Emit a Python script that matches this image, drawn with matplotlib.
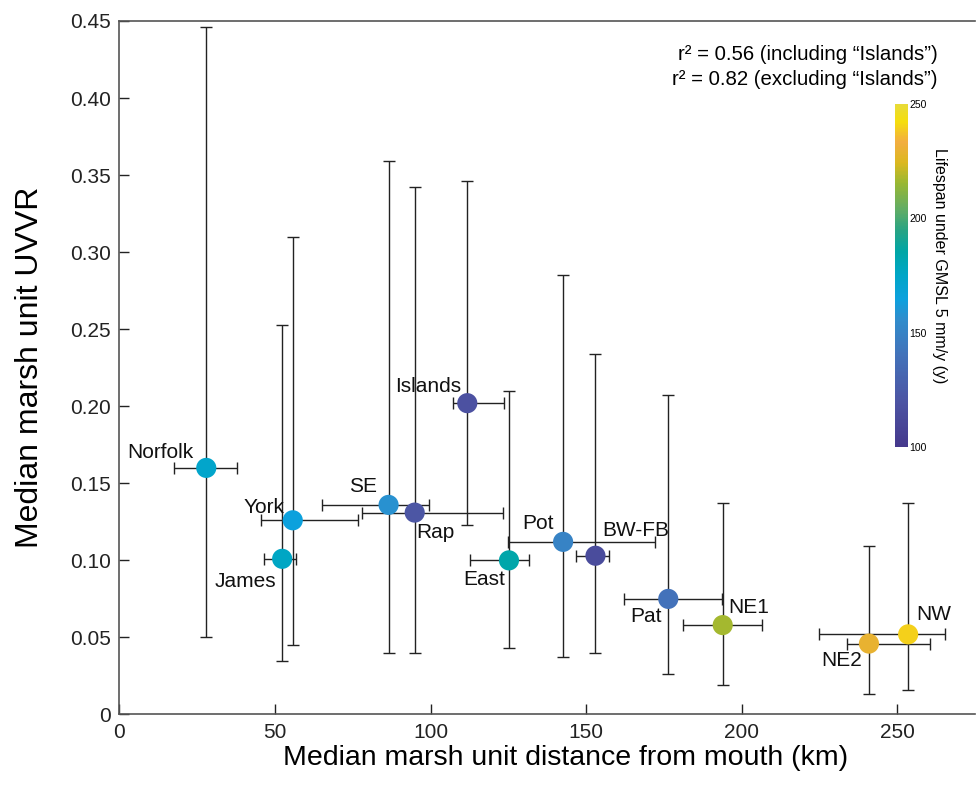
import matplotlib.pyplot as plt
import numpy as np
from matplotlib.colors import LinearSegmentedColormap, Normalize
from matplotlib import cm

# Marsh units: median distance from mouth (km), median UVVR, and spread
units = ['Norfolk', 'York', 'James', 'SE', 'Rap', 'Islands', 'East',
         'Pot', 'BW-FB', 'Pat', 'NE1', 'NE2', 'NW']
dist = [27.9, 55.7, 52.3, 86.5, 94.9, 111.8, 125.2, 142.6, 153.0, 176.4, 193.9, 240.9, 253.5]
dist_lo = [17.6, 45.5, 46.5, 65.1, 77.8, 107.3, 112.7, 124.9, 146.9, 162.2, 181.2, 233.9, 225.0]
dist_hi = [37.7, 76.7, 56.9, 99.4, 123.3, 123.7, 131.5, 172.2, 157.4, 193.6, 206.4, 260.5, 265.2]
uvvr = [0.160, 0.126, 0.101, 0.136, 0.131, 0.202, 0.100, 0.112, 0.103, 0.075, 0.058, 0.046, 0.052]
uvvr_lo = [0.050, 0.045, 0.035, 0.040, 0.040, 0.123, 0.043, 0.037, 0.040, 0.026, 0.019, 0.013, 0.016]
uvvr_hi = [0.446, 0.310, 0.253, 0.359, 0.342, 0.346, 0.210, 0.285, 0.234, 0.207, 0.137, 0.109, 0.137]
# lifespan under GMSL 5 mm/y (years)
lifespan = [173, 165, 176, 158, 121, 118, 184, 150, 114, 140, 217, 229, 240]

r2_lines = ['r\u00b2 = 0.56 (including \u201cIslands\u201d)',
            'r\u00b2 = 0.82 (excluding \u201cIslands\u201d)']

# label placement around each marker, in points
label_offsets = {
    'Norfolk': (-9, 11, 'right'), 'York': (-6, 9, 'right'), 'James': (-4, -16, 'right'),
    'SE': (-8, 13, 'right'), 'Rap': (1, -14, 'left'), 'Islands': (-4, 12, 'right'),
    'East': (-3, -14, 'right'), 'Pot': (-7, 13, 'right'), 'BW-FB': (5, 18, 'left'),
    'Pat': (-5, -13, 'right'), 'NE1': (4, 13, 'left'), 'NE2': (-5, -12, 'right'),
    'NW': (6, 14, 'left'),
}

plt.rcParams['font.family'] = ['Liberation Sans', 'DejaVu Sans']

# parula-like colour ramp
anchors = [(0.00, (0.27, 0.22, 0.55)), (0.13, (0.30, 0.33, 0.64)),
           (0.27, (0.26, 0.45, 0.73)), (0.37, (0.19, 0.55, 0.80)),
           (0.43, (0.05, 0.63, 0.87)), (0.50, (0.00, 0.65, 0.78)),
           (0.57, (0.00, 0.65, 0.65)), (0.63, (0.15, 0.64, 0.52)),
           (0.70, (0.40, 0.68, 0.38)), (0.77, (0.60, 0.72, 0.20)),
           (0.83, (0.86, 0.72, 0.12)), (0.89, (0.95, 0.68, 0.25)),
           (0.95, (0.96, 0.87, 0.05)), (1.00, (0.91, 0.86, 0.22))]
cmap = LinearSegmentedColormap.from_list('parula_like', anchors)
norm = Normalize(vmin=100, vmax=250)

fig = plt.figure(figsize=(9.76, 7.88), dpi=100)
ax = fig.add_axes([0.1224, 0.0933, 0.8766, 0.8801])

x = np.array(dist)
y = np.array(uvvr)
xerr = [x - np.array(dist_lo), np.array(dist_hi) - x]
yerr = [y - np.array(uvvr_lo), np.array(uvvr_hi) - y]
ax.errorbar(x, y, xerr=xerr, yerr=yerr, fmt='none', ecolor='#222222',
            elinewidth=1.0, capsize=4.2, capthick=1.0, zorder=2)
ax.scatter(x, y, s=14.5**2, c=lifespan, cmap=cmap, norm=norm,
           edgecolors='none', zorder=3)

for name, xi, yi in zip(units, dist, uvvr):
    dx, dy, ha = label_offsets[name]
    ax.annotate(name, (xi, yi), xytext=(dx, dy), textcoords='offset points',
                ha=ha, va='center', fontsize=15, color='#111111', zorder=4)

ax.text(0.956, 0.952, r2_lines[0], transform=ax.transAxes, ha='right', va='center', fontsize=14.7)
ax.text(0.956, 0.916, r2_lines[1], transform=ax.transAxes, ha='right', va='center', fontsize=14.7)

ax.set_xlim(0, 275)
ax.set_ylim(0, 0.45)
ax.set_xticks(np.arange(0, 251, 50))
ax.set_yticks(np.arange(0, 0.451, 0.05))
ax.set_yticklabels(['0'] + ['%.2f' % v for v in np.arange(0.05, 0.451, 0.05)])
ax.tick_params(direction='in', length=7, width=1, labelsize=15, colors='#222222', pad=6)
ax.set_xlabel('Median marsh unit distance from mouth (km)', fontsize=20.5, va='center')
ax.xaxis.set_label_coords(0.521, -0.063)
ax.set_ylabel('Median marsh unit UVVR', fontsize=23, va='center')
ax.yaxis.set_label_coords(-0.104, 0.5)
for s in ax.spines.values():
    s.set_color('#555555')
    s.set_linewidth(1.2)
ax.spines['right'].set_visible(False)

# colour bar inside the axes
cax = ax.inset_axes([0.9065, 0.3857, 0.0152, 0.4946])
cb = fig.colorbar(cm.ScalarMappable(norm=norm, cmap=cmap), cax=cax, ticks=[100, 150, 200, 250])
cb.outline.set_visible(False)
cax.tick_params(length=0, labelsize=7.5, pad=1)
cb.set_label('Lifespan under GMSL 5 mm/y (y)', rotation=270, fontsize=11.5, va='center')
cax.yaxis.set_label_coords(3.4, 0.53)

fig.savefig('out.png', dpi=100)
